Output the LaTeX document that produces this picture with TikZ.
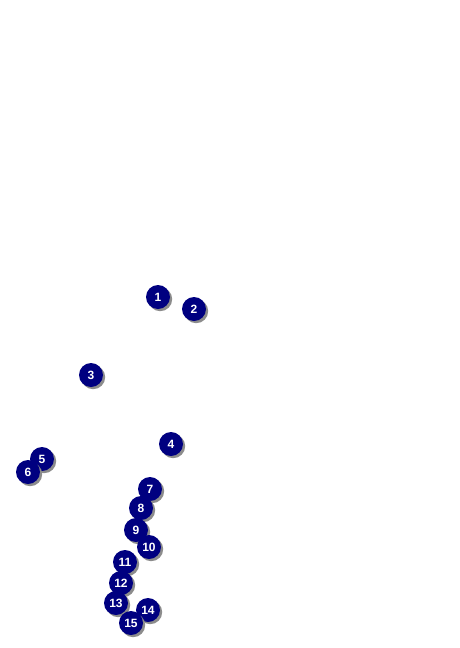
\documentclass[tikz,border=0pt]{standalone}
\usepackage{fontspec}
\setmainfont{Liberation Sans}
\begin{document}
\begin{tikzpicture}[x=1pt,y=-1pt,
  marker/.style={circle,fill={rgb,255:red,0;green,0;blue,128},text=white,
    minimum size=24pt,inner sep=0pt,font=\bfseries\fontsize{12}{12}\selectfont,
    preaction={fill=black!45,transform canvas={shift={(2.2pt,-2.2pt)}}}}]
\useasboundingbox (0,0) rectangle (459,648);
\node[marker] (n1) at (158,297) {1};
\node[marker] (n2) at (194,309) {2};
\node[marker] (n3) at (91,375) {3};
\node[marker] (n4) at (171,444) {4};
\node[marker] (n5) at (42,459) {5};
\node[marker] (n6) at (28,472) {6};
\node[marker] (n7) at (150,489) {7};
\node[marker] (n8) at (141,508) {8};
\node[marker] (n9) at (136,530) {9};
\node[marker] (n10) at (149,547) {10};
\node[marker] (n11) at (125,562) {11};
\node[marker] (n12) at (121,583) {12};
\node[marker] (n13) at (116,603) {13};
\node[marker] (n14) at (148,610) {14};
\node[marker] (n15) at (131,623) {15};
\end{tikzpicture}
\end{document}
